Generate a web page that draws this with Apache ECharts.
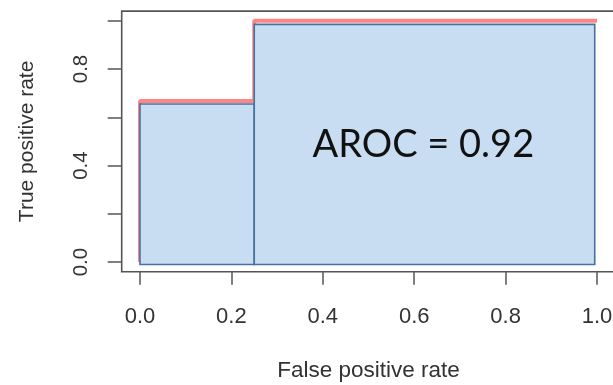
<!DOCTYPE html>
<html>
<head>
<meta charset="utf-8">
<script src="https://cdn.jsdelivr.net/npm/echarts@6/dist/echarts.min.js"></script>
<style>
  html, body { margin: 0; padding: 0; background: #fff; }
  #chart { width: 613px; height: 385px; }
</style>
</head>
<body>
<div id="chart"></div>
<script>
// ROC curve: step points (false positive rate, true positive rate)
const rocFpr = [0, 0, 0.25, 0.25, 1];
const rocTpr = [0, 0.667, 0.667, 1, 1];

// Shaded area blocks under the curve: [x0, x1, y0, y1]
const areaBlocks = [
  [0, 0.25, -0.01, 0.655],
  [0.25, 0.995, -0.01, 0.985]
];

const aucText = 'AROC = 0.92';
const xTicks = [0, 0.2, 0.4, 0.6, 0.8, 1.0];
const yTicks = [0, 0.2, 0.4, 0.6, 0.8, 1.0];
const yLabeled = [0, 0.4, 0.8];
const xTitle = 'False positive rate';
const yTitle = 'True positive rate';

// Axis ranges padded by 4% on each side, as in base R plots
const xRange = [-0.04, 1.04];
const yRange = [-0.04, 1.04];

const axisGray = '#555';
const textGray = '#333';
const font = '"Liberation Sans", Arial, sans-serif';

const chart = echarts.init(document.getElementById('chart'), null, { renderer: 'canvas' });

const option = {
  animation: false,
  backgroundColor: '#fff',
  grid: {
    left: 121.7, top: 11.1, width: 493.6, height: 260.6,
    containLabel: false, outerBoundsMode: 'none',
    show: true, borderColor: axisGray, borderWidth: 1.6, backgroundColor: 'transparent'
  },
  xAxis: {
    type: 'value', min: xRange[0], max: xRange[1],
    axisLine: { show: false, onZero: false },
    splitLine: { show: false },
    axisTick: { show: true, customValues: xTicks, length: 13, lineStyle: { color: axisGray, width: 1.5 } },
    axisLabel: {
      customValues: xTicks, margin: 34, color: textGray, fontFamily: font, fontSize: 22,
      formatter: v => v.toFixed(1)
    },
    name: xTitle, nameLocation: 'middle', nameGap: 88, nameMoveOverlap: false,
    nameTextStyle: { color: textGray, fontFamily: font, fontSize: 22.5 }
  },
  yAxis: {
    type: 'value', min: yRange[0], max: yRange[1],
    axisLine: { show: false, onZero: false },
    splitLine: { show: false },
    axisTick: { show: true, customValues: yTicks, length: 14, lineStyle: { color: axisGray, width: 1.5 } },
    axisLabel: {
      customValues: yLabeled, margin: 30, rotate: 90, color: textGray, fontFamily: font, fontSize: 20.5,
      formatter: v => v.toFixed(1)
    },
    name: yTitle, nameLocation: 'middle', nameGap: 84, nameRotate: 90, nameMoveOverlap: false,
    nameTextStyle: { color: textGray, fontFamily: font, fontSize: 21 }
  },
  series: [
    {
      type: 'line',
      data: rocFpr.map((x, i) => [x, rocTpr[i]]),
      showSymbol: false,
      z: 2,
      lineStyle: { color: '#ff7878', width: 4, opacity: 0.9 }
    },
    {
      type: 'custom',
      z: 3,
      data: areaBlocks,
      renderItem: (params, api) => {
        const p0 = api.coord([api.value(0), api.value(3)]);
        const p1 = api.coord([api.value(1), api.value(2)]);
        return {
          type: 'rect',
          shape: { x: p0[0], y: p0[1], width: p1[0] - p0[0], height: p1[1] - p0[1] },
          style: { fill: '#c8ddf1', stroke: '#44729f', lineWidth: 1.6 }
        };
      }
    }
  ]
};
chart.setOption(option);

// Area label placed in data space inside the right block
const c = chart.convertToPixel({ gridIndex: 0 }, [0.62, 0.5]);
chart.setOption({
  graphic: [
    {
      type: 'text', z: 11, silent: true,
      x: c[0], y: c[1] + 3,
      style: {
        text: aucText, fill: '#111', font: '38px Lato, "Open Sans", sans-serif',
        textAlign: 'center', textVerticalAlign: 'middle'
      }
    }
  ]
});
</script>
</body>
</html>
